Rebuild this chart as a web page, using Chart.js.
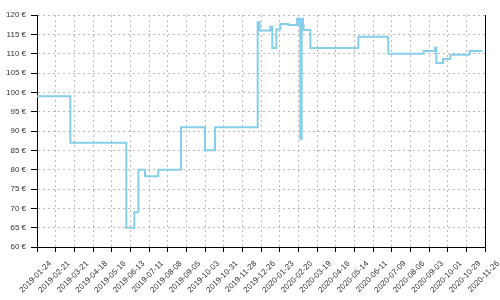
<!DOCTYPE html>
<html>
<head>
<meta charset="utf-8">
<script src="https://cdn.jsdelivr.net/npm/chart.js@4.4.1/dist/chart.umd.min.js"></script>
<style>
  html, body { margin: 0; padding: 0; background: #fff; }
  #wrap { width: 500px; height: 300px; }
</style>
</head>
<body>
<div id="wrap"><canvas id="priceChart"></canvas></div>
<script>
// price changes: date of change and the new price
const startDate = "2019-01-24";
const endDay = 672;
const dates = [
    "2019-01-24", "2019-03-15", "2019-06-07", "2019-06-19", "2019-06-25",
    "2019-07-05", "2019-07-25", "2019-08-28", "2019-10-03", "2019-10-18",
    "2019-12-21", "2019-12-24", "2020-01-09", "2020-01-12", "2020-01-18",
    "2020-01-24", "2020-02-05", "2020-02-18", "2020-02-20", "2020-02-21",
    "2020-02-23", "2020-02-25", "2020-02-27", "2020-02-28", "2020-03-09",
    "2020-05-20", "2020-07-03", "2020-07-04", "2020-08-26", "2020-09-12",
    "2020-09-14", "2020-09-24", "2020-10-05", "2020-11-03", "2020-11-22"
];
const prices = [
    98.99, 86.99, 64.99, 68.99, 79.99,
    78.29, 79.99, 90.99, 84.99, 90.99,
    118.1, 115.99, 116.99, 111.49, 116.3,
    117.7, 117.4, 119.0, 117.5, 119.0,
    88.0, 119.0, 117.3, 116.1, 111.49,
    114.4, 113.99, 109.99, 110.7, 111.5,
    107.6, 108.6, 109.7, 110.7, 110.7
];
const yMin = 60, yMax = 120, yStep = 5, xStep = 28;

const DAY = 864e5;
const t0 = Date.parse(startDate);
function dayOf(d) { return Math.round((Date.parse(d) - t0) / DAY); }
function dateOf(n) { return new Date(t0 + n * DAY).toISOString().slice(0, 10); }

const points = dates.map(function (d, i) { return { x: dayOf(d), y: prices[i] }; });

const frame = {
    id: "frame",
    afterDraw: function (chart) {
        const a = chart.chartArea, ctx = chart.ctx;
        ctx.save();
        ctx.strokeStyle = "#000";
        ctx.lineWidth = 1;
        ctx.beginPath();
        ctx.moveTo(Math.round(a.right) + 0.5, a.top);
        ctx.lineTo(Math.round(a.right) + 0.5, a.bottom);
        ctx.stroke();
        ctx.restore();
    }
};

Chart.defaults.font.family = "'Liberation Sans', Arial, sans-serif";
Chart.defaults.font.size = 8;
Chart.defaults.color = "#333";

new Chart(document.getElementById("priceChart"), {
    type: "line",
    data: {
        datasets: [{
            data: points,
            borderColor: "#87ceeb",
            borderWidth: 2,
            stepped: "before",
            pointRadius: 0,
            fill: false
        }]
    },
    options: {
        responsive: true,
        maintainAspectRatio: false,
        animation: false,
        layout: { padding: { top: 15, right: 15, left: 0, bottom: 0 } },
        plugins: { legend: { display: false }, tooltip: { enabled: false } },
        scales: {
            x: {
                type: "linear",
                min: 0,
                max: endDay,
                afterFit: function (s) { s.height = 53; },
                ticks: {
                    stepSize: xStep,
                    autoSkip: false,
                    maxRotation: 45,
                    minRotation: 45,
                    labelOffset: 13,
                    padding: 7,
                    callback: function (v) { return dateOf(v); }
                },
                grid: { color: "#bbb", tickColor: "#000", tickLength: 5 },
                border: { color: "#000", dash: [2, 3] }
            },
            y: {
                min: yMin,
                max: yMax,
                afterFit: function (s) { s.width = 37; },
                ticks: {
                    stepSize: yStep,
                    padding: 5,
                    callback: function (v) { return v + " €"; }
                },
                grid: { color: "#bbb", tickColor: "#000", tickLength: 6 },
                border: { color: "#000", dash: [2, 3] }
            }
        }
    },
    plugins: [frame]
});
</script>
</body>
</html>
